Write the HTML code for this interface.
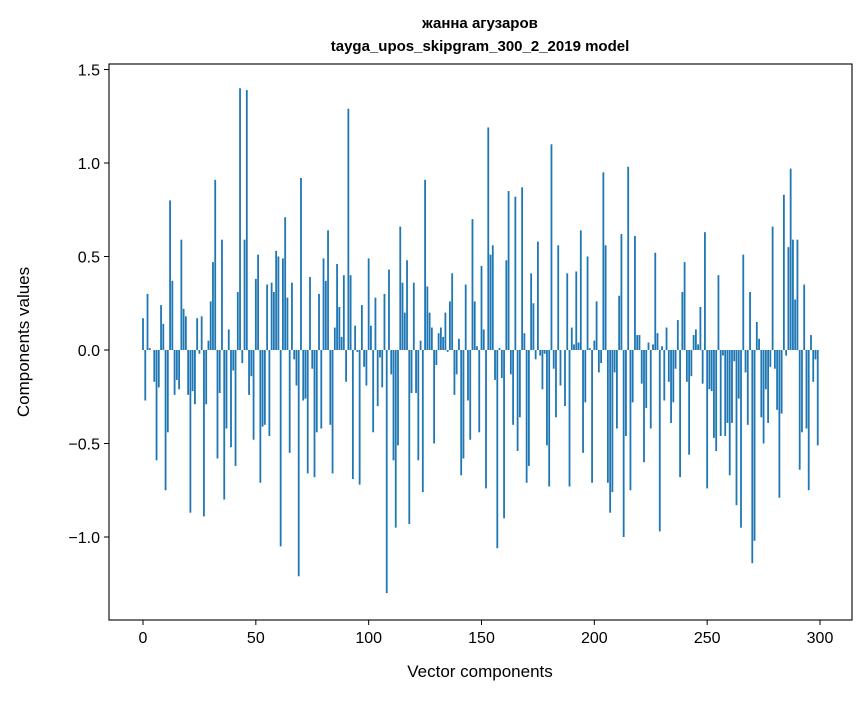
<!DOCTYPE html>
<html><head><meta charset="utf-8"><style>
body{margin:0;background:#fff;font-family:"Liberation Sans","DejaVu Sans",sans-serif}
</style></head><body>
<svg id="chart" width="867" height="696" xmlns="http://www.w3.org/2000/svg">
<text x="480" y="28" text-anchor="middle" font-size="15" font-weight="bold">жанна агузаров</text>
<text x="480" y="51" text-anchor="middle" font-size="15" font-weight="bold">tayga_upos_skipgram_300_2_2019 model</text>
<g id="bars"></g>
<g id="axes"></g>
<text x="480" y="677" text-anchor="middle" font-size="17">Vector components</text>
<text transform="translate(29,342) rotate(-90)" text-anchor="middle" font-size="17">Components values</text>
</svg>
<script>
const values = [
0.17,-0.27,0.30,0.01,0,-0.17,-0.59,-0.20,0.24,0.14,
-0.75,-0.44,0.80,0.37,-0.24,-0.16,-0.21,0.59,0.22,0.18,
-0.24,-0.87,-0.22,-0.29,0.17,-0.02,0.18,-0.89,-0.29,0.05,
0.26,0.47,0.91,-0.58,-0.23,0.59,-0.80,-0.42,0.11,-0.52,
-0.11,-0.62,0.31,1.40,-0.07,0.59,1.39,-0.24,-0.14,-0.48,
0.38,0.51,-0.71,-0.41,-0.40,0.35,-0.46,0.36,0.31,0.53,
0.50,-1.05,0.49,0.71,0.28,-0.55,0.36,-0.05,-0.19,-1.21,
0.92,-0.27,-0.26,-0.66,0.39,-0.10,-0.68,-0.44,0.30,-0.42,
0.49,0.37,0.64,-0.40,-0.66,0.12,0.46,0.23,0.07,0.40,
-0.17,1.29,0.40,-0.69,0.13,-0.01,-0.72,0.24,-0.09,-0.19,
0.49,0.13,-0.44,0.28,-0.30,-0.04,-0.20,0.30,-1.30,0.43,
-0.13,-0.59,-0.95,-0.51,0.66,0.36,0.20,0.48,-0.93,-0.23,
0.36,-0.23,-0.59,0.05,-0.76,0.91,0.34,0.20,0.12,-0.50,
-0.08,0.09,0.12,0.07,0.20,-0.01,0.26,0.41,-0.24,-0.13,
0.06,-0.67,-0.58,0.35,-0.27,-0.48,0.70,0.26,0.02,-0.44,
0.45,0.11,-0.74,1.19,0.51,0.56,-0.16,-1.06,0.01,-0.15,
-0.90,0.48,0.85,-0.13,-0.40,0.82,-0.54,-0.36,0.87,0.09,
-0.71,-0.62,0.41,0.25,-0.05,0.58,-0.03,-0.21,-0.02,-0.51,
-0.73,1.10,-0.10,-0.36,0.56,-0.19,0.00,-0.30,0.41,-0.73,
0.12,0.03,0.42,0.04,0.64,-0.55,-0.28,0.50,0.01,-0.71,
0.05,0.26,-0.12,-0.07,0.95,0.56,-0.71,-0.87,-0.76,-0.12,
-0.42,0.29,0.62,-1.00,-0.46,0.98,-0.75,-0.28,0.61,0.08,
0.08,-0.18,-0.60,-0.31,0.04,-0.42,0.03,0.52,0.09,-0.97,
0.02,-0.27,0.12,-0.17,-0.39,-0.28,-0.10,0.16,-0.68,0.31,
0.47,-0.17,-0.56,-0.14,0.08,0.11,0.03,0.23,-0.18,0.63,
-0.74,-0.21,-0.22,-0.47,-0.54,0.40,-0.46,-0.03,-0.46,-0.39,
-0.67,-0.39,-0.06,-0.83,-0.26,-0.95,0.51,-0.12,-0.40,0.31,
-1.14,-1.02,0.15,0.06,-0.36,-0.50,-0.21,-0.39,-0.09,0.66,
-0.10,-0.32,-0.79,-0.34,0.83,-0.03,0.55,0.97,0.59,0.27,
0.59,-0.64,-0.44,0.35,-0.42,-0.75,0.08,-0.17,-0.05,-0.51];
const xTicks = [0,50,100,150,200,250,300];
const yTicks = [1.5,1.0,0.5,0.0,-0.5,-1.0];

const L=109,T=64,R=852,B=620;
const X0=143, XS=(820-143)/300;
const Y0=350, YS=187;
const xs = v => X0 + v*XS;
const ys = v => Y0 - v*YS;
const NS='http://www.w3.org/2000/svg';
const bars=document.getElementById('bars');
values.forEach((v,i)=>{
  const r=document.createElementNS(NS,'rect');
  const y1=ys(Math.max(v,0)), y2=ys(Math.min(v,0));
  r.setAttribute('x',xs(i-0.4));
  r.setAttribute('width',0.8*XS);
  r.setAttribute('y',y1);
  r.setAttribute('height',Math.max(y2-y1,0));
  r.setAttribute('fill','#1f77b4');
  
  
  bars.appendChild(r);
});
const ax=document.getElementById('axes');
const frame=document.createElementNS(NS,'rect');
frame.setAttribute('x',L);frame.setAttribute('y',T);
frame.setAttribute('width',R-L);frame.setAttribute('height',B-T);
frame.setAttribute('fill','none');frame.setAttribute('stroke','#000');frame.setAttribute('stroke-width','1.1');


ax.appendChild(frame);
xTicks.forEach(t=>{
  const x=xs(t);
  const l=document.createElementNS(NS,'line');
  l.setAttribute('x1',x);l.setAttribute('x2',x);l.setAttribute('y1',B);l.setAttribute('y2',B+5);
  l.setAttribute('stroke','#000');
  
  
  ax.appendChild(l);
  const tx=document.createElementNS(NS,'text');
  tx.setAttribute('x',x);tx.setAttribute('y',B+23);tx.setAttribute('text-anchor','middle');tx.setAttribute('font-size','16');
  tx.textContent=String(t);
  
  
  ax.appendChild(tx);
});
yTicks.forEach(t=>{
  const y=ys(t);
  const l=document.createElementNS(NS,'line');
  l.setAttribute('x1',L-5);l.setAttribute('x2',L);l.setAttribute('y1',y);l.setAttribute('y2',y);
  l.setAttribute('stroke','#000');
  
  
  ax.appendChild(l);
  const tx=document.createElementNS(NS,'text');
  tx.setAttribute('x',L-9);tx.setAttribute('y',y+6);tx.setAttribute('text-anchor','end');tx.setAttribute('font-size','16');
  tx.textContent=(t<0?'\u2212':'')+Math.abs(t).toFixed(1);
  
  
  ax.appendChild(tx);
});
</script>
</body></html>
